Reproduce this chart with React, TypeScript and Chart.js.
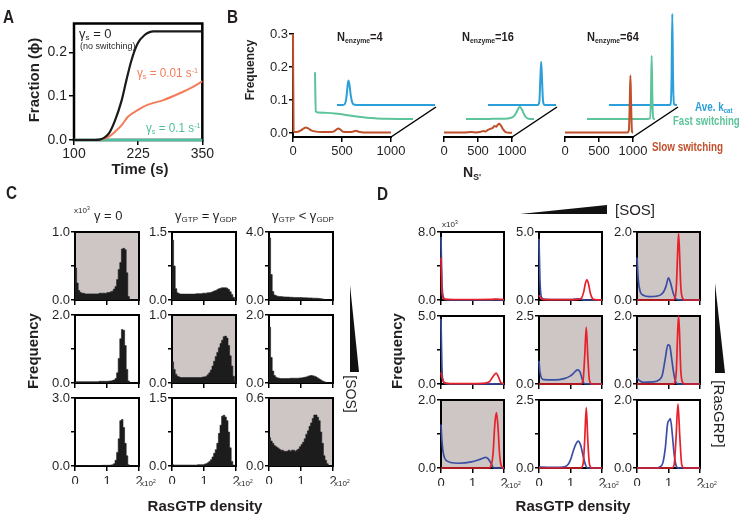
import React, { useEffect, useRef } from 'react';
import { Chart, registerables } from 'chart.js';

Chart.register(...registerables);

const FONT = '"Liberation Sans", Arial, Helvetica, sans-serif';
const INK = '#231f20';
const GRAY_BG = '#cdc6c5';
Chart.defaults.font.family = FONT;

// ---------------- Panel A ----------------
const aBlackTime = [100, 140, 150, 160, 168, 180, 193, 202, 212, 224, 237, 255, 272, 300, 350];
const aBlackFrac = [0, 0, 0.001, 0.006, 0.015, 0.045, 0.091, 0.136, 0.182, 0.22, 0.239, 0.248, 0.248, 0.248, 0.248];
const aOrangeTime = [100, 145, 155, 168, 180, 193, 205, 224, 243, 274, 305, 330, 350];
const aOrangeFrac = [0, 0, 0.002, 0.0075, 0.019, 0.034, 0.053, 0.068, 0.08, 0.091, 0.106, 0.12, 0.134];
const aTealTime = [100, 350];
const aTealFrac = [0, 0];
const aTimeTicks = [100, 225, 350];
const aFracTicks = [0, 0.1, 0.2];

// ---------------- Panel B ----------------
const bNumTicks = [0, 500, 1000];
const bFreqTicks = [0, 0.1, 0.2, 0.3];
const bEnzymeCounts = ['4', '16', '64'];

const bSlowX4 = [0, 6, 20, 50, 80, 110, 130, 150, 180, 220, 300, 380, 420, 445, 465, 485, 510, 560, 610, 640, 670, 720, 800, 1000];
const bSlowY4 = [0.3, 0.006, 0.003, 0.004, 0.008, 0.014, 0.017, 0.015, 0.009, 0.005, 0.003, 0.003, 0.005, 0.011, 0.014, 0.01, 0.004, 0.003, 0.004, 0.007, 0.004, 0.002, 0.002, 0.002];
const bFastX4 = [0, 8, 30, 100, 200, 300, 370, 450, 530, 620, 720, 1000];
const bFastY4 = [0.142, 0.023, 0.02, 0.019, 0.017, 0.013, 0.01, 0.007, 0.004, 0.002, 0.0005, 0];
const bAveX4 = [0, 60, 80, 95, 105, 117, 130, 140, 155, 180, 250, 1000];
const bAveY4 = [0, 0, 0.003, 0.02, 0.05, 0.074, 0.055, 0.03, 0.008, 0.001, 0, 0];

const bSlowX16 = [0, 100, 200, 300, 400, 480, 540, 580, 610, 640, 670, 700, 720, 741, 768, 790, 809, 830, 850, 870, 895, 920, 950, 1000];
const bSlowY16 = [0.002, 0.002, 0.002, 0.002, 0.003, 0.002, 0.004, 0.006, 0.005, 0.009, 0.012, 0.014, 0.016, 0.021, 0.019, 0.025, 0.028, 0.025, 0.018, 0.011, 0.005, 0.002, 0.001, 0.001];
const bFastX16 = [0, 200, 400, 550, 650, 700, 730, 760, 790, 820, 850, 880, 920, 1000];
const bFastY16 = [0, 0, 0.0005, 0.001, 0.003, 0.008, 0.016, 0.028, 0.037, 0.03, 0.016, 0.006, 0.001, 0];
const bAveX16 = [0, 600, 730, 755, 768, 782, 796, 810, 835, 1000];
const bAveY16 = [0, 0, 0, 0.01, 0.07, 0.131, 0.07, 0.01, 0, 0];

const bSlowX64 = [0, 500, 850, 920, 940, 952, 962, 972, 985, 1000];
const bSlowY64 = [0.002, 0.002, 0.002, 0.002, 0.01, 0.09, 0.174, 0.09, 0.005, 0.001];
const bFastX64 = [0, 880, 925, 940, 951, 962, 975, 1000];
const bFastY64 = [0, 0, 0.002, 0.06, 0.192, 0.06, 0.002, 0];
const bAveX64 = [0, 870, 905, 920, 931, 942, 955, 1000];
const bAveY64 = [0, 0, 0.002, 0.08, 0.276, 0.08, 0.002, 0];

// ---------------- Panel C (histograms, x10^3 frequency, bins of 0.05 x10^2) ----------------
const rasBinWidth = 0.05;
const rasTicks = [0, 1, 2];
const cYMax = [[1.0, 1.5, 4.0], [2.0, 1.0, 2.0], [3.0, 1.5, 0.6]];
const cHist11 = [0.47, 0.25, 0.14, 0.11, 0.1, 0.1, 0.09, 0.09, 0.09, 0.09, 0.09, 0.09, 0.09, 0.09, 0.09, 0.1, 0.1, 0.1, 0.1, 0.1, 0.11, 0.11, 0.12, 0.13, 0.16, 0.2, 0.3, 0.45, 0.55, 0.75, 0.76, 0.74, 0.4, 0.05, 0, 0, 0, 0, 0, 0];
const cHist12 = [1.32, 0.75, 0.25, 0.16, 0.14, 0.13, 0.13, 0.13, 0.13, 0.13, 0.13, 0.13, 0.13, 0.13, 0.13, 0.14, 0.14, 0.14, 0.14, 0.15, 0.15, 0.15, 0.16, 0.16, 0.17, 0.18, 0.2, 0.21, 0.23, 0.25, 0.26, 0.27, 0.27, 0.27, 0.26, 0.23, 0.18, 0.12, 0.06, 0.02];
const cHist13 = [3.65, 1.5, 0.5, 0.3, 0.25, 0.22, 0.2, 0.2, 0.19, 0.18, 0.18, 0.17, 0.17, 0.16, 0.16, 0.15, 0.15, 0.15, 0.14, 0.14, 0.14, 0.13, 0.13, 0.13, 0.12, 0.12, 0.12, 0.11, 0.11, 0.1, 0.1, 0.09, 0.08, 0.06, 0.04, 0.02, 0, 0, 0, 0];
const cHist21 = [0.04, 0.04, 0.04, 0.04, 0.04, 0.04, 0.04, 0.04, 0.04, 0.04, 0.04, 0.04, 0.04, 0.04, 0.04, 0.05, 0.05, 0.05, 0.05, 0.05, 0.05, 0.06, 0.06, 0.07, 0.09, 0.13, 0.3, 0.72, 1.3, 1.57, 1.55, 1.1, 0.4, 0.06, 0, 0, 0, 0, 0, 0];
const cHist22 = [0.31, 0.2, 0.13, 0.1, 0.09, 0.08, 0.08, 0.08, 0.08, 0.08, 0.08, 0.08, 0.08, 0.08, 0.08, 0.08, 0.08, 0.08, 0.08, 0.09, 0.09, 0.1, 0.12, 0.15, 0.19, 0.25, 0.32, 0.39, 0.45, 0.52, 0.58, 0.63, 0.68, 0.69, 0.66, 0.55, 0.4, 0.25, 0.1, 0.03];
const cHist23 = [1.64, 0.75, 0.35, 0.22, 0.17, 0.15, 0.14, 0.13, 0.13, 0.13, 0.13, 0.13, 0.13, 0.14, 0.14, 0.14, 0.14, 0.14, 0.14, 0.15, 0.15, 0.16, 0.17, 0.18, 0.2, 0.21, 0.22, 0.21, 0.2, 0.18, 0.15, 0.12, 0.09, 0.06, 0.04, 0.02, 0.01, 0, 0, 0];
const cHist31 = [0.01, 0.01, 0.01, 0.01, 0.01, 0.01, 0.01, 0.02, 0.02, 0.02, 0.02, 0.02, 0.02, 0.02, 0.02, 0.02, 0.02, 0.03, 0.03, 0.03, 0.03, 0.03, 0.04, 0.05, 0.1, 0.25, 0.6, 1.2, 2.0, 2.05, 1.7, 1.0, 0.45, 0.05, 0, 0, 0, 0, 0, 0];
const cHist32 = [0.03, 0.02, 0.02, 0.02, 0.02, 0.02, 0.02, 0.02, 0.02, 0.02, 0.02, 0.02, 0.02, 0.02, 0.02, 0.02, 0.03, 0.03, 0.03, 0.03, 0.04, 0.05, 0.07, 0.1, 0.14, 0.2, 0.28, 0.36, 0.5, 0.72, 0.9, 1.1, 1.12, 1.08, 1.0, 0.75, 0.4, 0.1, 0.02, 0];
const cHist33 = [0.25, 0.22, 0.2, 0.18, 0.17, 0.16, 0.15, 0.14, 0.14, 0.13, 0.13, 0.13, 0.14, 0.13, 0.14, 0.14, 0.13, 0.14, 0.15, 0.17, 0.19, 0.21, 0.24, 0.28, 0.31, 0.35, 0.38, 0.42, 0.45, 0.45, 0.43, 0.4, 0.3, 0.2, 0.09, 0.05, 0.02, 0, 0, 0];
const cHists = [[cHist11, cHist12, cHist13], [cHist21, cHist22, cHist23], [cHist31, cHist32, cHist33]];
const cShaded = [[true, false, false], [false, true, false], [false, false, true]];

// ---------------- Panel D (lines, x10^3 frequency) ----------------
const dYMax = [[8.0, 5.0, 2.0], [5.0, 2.5, 2.0], [2.0, 2.5, 2.0]];
const dShaded = [[false, false, true], [false, true, true], [true, false, false]];

const dBlueX11 = [0, 0.03, 0.08, 0.15, 0.5, 2];
const dBlueY11 = [7.4, 2.0, 0.3, 0.05, 0.02, 0.02];
const dRedX11 = [0, 0.03, 0.08, 0.2, 0.6, 1.2, 1.6, 1.75, 1.85, 2];
const dRedY11 = [5.0, 1.0, 0.15, 0.08, 0.06, 0.06, 0.07, 0.12, 0.08, 0.06];

const dBlueX12 = [0, 0.03, 0.07, 0.15, 0.5, 1.0, 1.15, 1.25, 1.35, 1.45, 2];
const dBlueY12 = [4.5, 1.5, 0.25, 0.06, 0.03, 0.03, 0.07, 0.08, 0.05, 0, 0];
const dRedX12 = [0, 0.04, 0.1, 0.3, 1.0, 1.25, 1.35, 1.42, 1.47, 1.52, 1.57, 1.63, 1.7, 1.8, 2];
const dRedY12 = [0.35, 0.2, 0.05, 0.03, 0.03, 0.05, 0.15, 0.6, 1.2, 1.48, 1.2, 0.5, 0.1, 0.02, 0];

const dBlueX13 = [0, 0.04, 0.1, 0.2, 0.4, 0.6, 0.75, 0.85, 0.92, 1.0, 1.08, 1.15, 1.25, 1.4, 2];
const dBlueY13 = [1.25, 0.6, 0.25, 0.14, 0.1, 0.11, 0.15, 0.25, 0.4, 0.65, 0.45, 0.2, 0.02, 0, 0];
const dRedX13 = [0, 1.12, 1.2, 1.25, 1.29, 1.32, 1.35, 1.39, 1.45, 1.53, 2];
const dRedY13 = [0, 0, 0.05, 0.4, 1.4, 1.95, 1.4, 0.4, 0.05, 0, 0];

const dBlueX21 = [0, 0.03, 0.07, 0.15, 0.5, 2];
const dBlueY21 = [4.8, 1.2, 0.2, 0.03, 0.01, 0];
const dRedX21 = [0, 0.04, 0.1, 0.3, 1.0, 1.4, 1.55, 1.65, 1.75, 1.82, 1.9, 2];
const dRedY21 = [0.85, 0.4, 0.1, 0.03, 0.03, 0.06, 0.2, 0.55, 0.8, 0.55, 0.1, 0.02];

const dBlueX22 = [0, 0.03, 0.08, 0.15, 0.5, 0.8, 1.0, 1.1, 1.22, 1.3, 1.38, 1.45, 2];
const dBlueY22 = [0.85, 0.45, 0.22, 0.16, 0.15, 0.2, 0.3, 0.4, 0.52, 0.45, 0.15, 0.01, 0];
const dRedX22 = [0, 1.33, 1.4, 1.45, 1.5, 1.55, 1.6, 1.67, 2];
const dRedY22 = [0, 0, 0.15, 1.0, 2.08, 1.0, 0.15, 0, 0];

const dBlueX23 = [0, 0.05, 0.2, 0.5, 0.7, 0.8, 0.89, 0.98, 1.04, 1.1, 1.16, 1.22, 1.3, 2];
const dBlueY23 = [0.18, 0.12, 0.05, 0.06, 0.12, 0.25, 0.7, 1.15, 1.12, 0.75, 0.35, 0.08, 0, 0];
const dRedX23 = [0, 1.12, 1.2, 1.25, 1.29, 1.32, 1.35, 1.39, 1.45, 1.53, 2];
const dRedY23 = [0, 0, 0.05, 0.4, 1.5, 2.0, 1.5, 0.4, 0.05, 0, 0];

const dBlueX31 = [0, 0.03, 0.07, 0.18, 0.55, 0.97, 1.28, 1.42, 1.5, 1.58, 1.68, 2];
const dBlueY31 = [1.28, 0.8, 0.45, 0.21, 0.14, 0.18, 0.27, 0.31, 0.27, 0.15, 0, 0];
const dRedX31 = [0, 1.5, 1.58, 1.65, 1.71, 1.76, 1.81, 1.86, 1.92, 2];
const dRedY31 = [0, 0, 0.05, 0.4, 1.3, 1.63, 1.2, 0.4, 0.05, 0];

const dBlueX32 = [0, 0.1, 0.5, 0.75, 0.9, 1.0, 1.08, 1.16, 1.24, 1.32, 1.4, 1.48, 1.55, 2];
const dBlueY32 = [0.04, 0.03, 0.02, 0.03, 0.1, 0.3, 0.6, 0.85, 0.99, 0.85, 0.45, 0.1, 0, 0];
const dRedX32 = [0, 1.33, 1.4, 1.45, 1.5, 1.55, 1.6, 1.67, 2];
const dRedY32 = [0, 0, 0.15, 1.0, 2.22, 1.0, 0.15, 0, 0];

const dBlueX33 = [0, 0.6, 0.72, 0.82, 0.9, 0.97, 1.02, 1.06, 1.12, 1.18, 1.25, 1.32, 2];
const dBlueY33 = [0, 0, 0.03, 0.15, 0.6, 1.3, 1.4, 1.45, 1.0, 0.4, 0.05, 0, 0];
const dRedX33 = [0, 1.1, 1.18, 1.24, 1.3, 1.36, 1.42, 1.5, 2];
const dRedY33 = [0, 0, 0.1, 0.9, 1.88, 0.9, 0.1, 0, 0];

const dBlue = [
  [[dBlueX11, dBlueY11], [dBlueX12, dBlueY12], [dBlueX13, dBlueY13]],
  [[dBlueX21, dBlueY21], [dBlueX22, dBlueY22], [dBlueX23, dBlueY23]],
  [[dBlueX31, dBlueY31], [dBlueX32, dBlueY32], [dBlueX33, dBlueY33]],
];
const dRed = [
  [[dRedX11, dRedY11], [dRedX12, dRedY12], [dRedX13, dRedY13]],
  [[dRedX21, dRedY21], [dRedX22, dRedY22], [dRedX23, dRedY23]],
  [[dRedX31, dRedY31], [dRedX32, dRedY32], [dRedX33, dRedY33]],
];

// ---------------- colours & layout ----------------
const COL = {
  aBlack: '#1a1a1a', aOrange: '#f47c5a', aTeal: '#4fbf9e',
  bSlow: '#c0502c', bFast: '#5cc39a', bAve: '#2b9fd9',
  dRed: '#e8202a', dBlue: '#3a4fa3', hist: '#1c1c1c',
};
const bLefts = [293, 414, 535];
const bLayerShift = [[0, 0], [22, -14], [44, -28]];
const cCols = [75, 172, 269];
const cRows = [232, 315, 398];
const dCols = [441, 539, 637];
const dRows = [232, 316, 400];

const xy = (xs: number[], ys: number[]) => xs.map((x, i) => ({ x, y: ys[i] }));
const histPts = (vals: number[]) => [...vals.map((v, i) => ({ x: i * rasBinWidth, y: v })), { x: 2, y: 0 }];

function axis(o: any) {
  return {
    type: 'linear',
    display: o.display !== false,
    min: o.min,
    max: o.max,
    afterBuildTicks: (s: any) => { s.ticks = o.ticks.map((v: number) => ({ value: v })); },
    afterFit: (s: any) => { if (s.isHorizontal()) s.height = o.size; else s.width = o.size; },
    border: { display: false },
    grid: { drawOnChartArea: false, drawTicks: true, tickLength: o.tickLen ?? 4, color: '#000', lineWidth: 1.5 },
    ticks: {
      callback: (v: any, i: number) => o.label(Number(v), i),
      font: { size: o.font, family: FONT },
      color: INK,
      padding: o.pad ?? 2,
      maxRotation: 0,
      minRotation: 0,
      autoSkip: false,
    },
  };
}

function framePlugin(opt: any) {
  return {
    id: 'frame',
    beforeDatasetsDraw(chart: any) {
      const { ctx, chartArea: a } = chart;
      ctx.save();
      if (opt.bg) {
        ctx.fillStyle = opt.bg;
        ctx.fillRect(a.left, a.top, a.right - a.left, a.bottom - a.top);
      }
      if (opt.width) {
        const s = opt.sides || 'lrtb';
        ctx.strokeStyle = '#000';
        ctx.lineWidth = opt.width;
        ctx.lineCap = 'square';
        ctx.beginPath();
        if (s.includes('l')) { ctx.moveTo(a.left, a.top); ctx.lineTo(a.left, a.bottom); }
        if (s.includes('r')) { ctx.moveTo(a.right, a.top); ctx.lineTo(a.right, a.bottom); }
        if (s.includes('t')) { ctx.moveTo(a.left, a.top); ctx.lineTo(a.right, a.top); }
        if (s.includes('b')) { ctx.moveTo(a.left, a.bottom); ctx.lineTo(a.right, a.bottom); }
        ctx.stroke();
      }
      ctx.restore();
    },
  };
}

function layerPlugin(shifts: number[][], diag: number[]) {
  return {
    id: 'layers',
    beforeDatasetDraw(chart: any, args: any) {
      const s = shifts[args.index] || [0, 0];
      chart.ctx.save();
      chart.ctx.translate(s[0], s[1]);
    },
    afterDatasetDraw(chart: any) { chart.ctx.restore(); },
    afterDatasetsDraw(chart: any) {
      const { ctx, chartArea: a, scales } = chart;
      const x0 = scales.x.getPixelForValue(1000);
      ctx.save();
      ctx.strokeStyle = '#000';
      ctx.lineWidth = 1.5;
      ctx.beginPath();
      ctx.moveTo(x0, a.bottom);
      ctx.lineTo(x0 + diag[0], a.bottom + diag[1]);
      ctx.stroke();
      ctx.restore();
    },
  };
}

function place(box: any, m: any, yW: number, xH: number) {
  return {
    cx: box.x - m.l, cy: box.y - m.t, cw: box.w + m.l + m.r, ch: box.h + m.t + m.b,
    padding: { left: m.l - yW, right: m.r, top: m.t, bottom: m.b - xH },
  };
}

function baseOptions(padding: any, scales: any) {
  return {
    responsive: false,
    maintainAspectRatio: false,
    animation: false,
    devicePixelRatio: 1,
    events: [],
    layout: { padding },
    plugins: { legend: { display: false }, tooltip: { enabled: false } },
    scales,
  };
}

const lineDs = (data: any, color: string, width: number, order: number) => ({
  data, borderColor: color, borderWidth: width, pointRadius: 0, fill: false,
  cubicInterpolationMode: 'monotone', tension: 0.4, clip: false, order,
});

// -------- spec builders --------
function specA() {
  const p = place({ x: 74, y: 23, w: 133, h: 117 }, { l: 36, r: 8, t: 10, b: 24 }, 32, 20);
  return {
    ...p,
    make: () => ({
      type: 'line',
      data: {
        datasets: [
          lineDs(xy(aBlackTime, aBlackFrac), COL.aBlack, 2.2, 0),
          lineDs(xy(aOrangeTime, aOrangeFrac), COL.aOrange, 2, 1),
          lineDs(xy(aTealTime, aTealFrac), COL.aTeal, 2.5, 2),
        ],
      },
      options: baseOptions(p.padding, {
        x: axis({ min: 100, max: 350, ticks: aTimeTicks, label: (v: number) => String(v), size: 20, font: 14, tickLen: 5, pad: 1 }),
        y: axis({ min: 0, max: 0.266, ticks: aFracTicks, label: (v: number) => v.toFixed(1), size: 32, font: 14, tickLen: 5, pad: 2 }),
      }),
      plugins: [framePlugin({ width: 2.5 })],
    }),
  };
}

function specB(k: number) {
  const sets = [
    [bSlowX4, bSlowY4, bFastX4, bFastY4, bAveX4, bAveY4],
    [bSlowX16, bSlowY16, bFastX16, bFastY16, bAveX16, bAveY16],
    [bSlowX64, bSlowY64, bFastX64, bFastY64, bAveX64, bAveY64],
  ][k];
  const yW = k === 0 ? 30 : 0;
  const p = place({ x: bLefts[k], y: 34, w: 98, h: 103 }, { l: k === 0 ? 40 : 12, r: 52, t: 26, b: 22 }, yW, 18);
  return {
    ...p,
    make: () => ({
      type: 'line',
      data: {
        datasets: [
          lineDs(xy(sets[0], sets[1]), COL.bSlow, 2, 0),
          lineDs(xy(sets[2], sets[3]), COL.bFast, 2, 1),
          lineDs(xy(sets[4], sets[5]), COL.bAve, 2, 2),
        ],
      },
      options: baseOptions(p.padding, {
        x: axis({ min: 0, max: 1000, ticks: bNumTicks, label: (v: number) => String(v), size: 18, font: 13, tickLen: 5, pad: 2 }),
        y: axis({ display: k === 0, min: -0.012, max: 0.3, ticks: bFreqTicks, label: (v: number) => v.toFixed(1), size: 30, font: 13, tickLen: 4, pad: 1 }),
      }),
      plugins: [framePlugin({ width: 2, sides: k === 0 ? 'lb' : 'b' }), layerPlugin(bLayerShift, [45, -30])],
    }),
  };
}

function smallAxes(ymax: number, showX: boolean) {
  return {
    x: axis({ min: 0, max: 2, ticks: rasTicks, label: (v: number) => (showX ? String(v) : ''), size: 18, font: 13, tickLen: 5, pad: 3 }),
    y: axis({ min: 0, max: ymax, ticks: [0, ymax / 2, ymax], label: (v: number, i: number) => (i === 1 ? '' : v.toFixed(1)), size: 28, font: 13, tickLen: 4, pad: 1 }),
  };
}

function specC(r: number, c: number) {
  const p = place({ x: cCols[c], y: cRows[r], w: 64, h: 68 }, { l: 30, r: 8, t: 9, b: 22 }, 28, 18);
  return {
    ...p,
    make: () => ({
      type: 'line',
      data: {
        datasets: [{
          data: histPts(cHists[r][c]), stepped: 'before', fill: 'origin',
          backgroundColor: COL.hist, borderColor: COL.hist, borderWidth: 0.6, pointRadius: 0, clip: false,
        }],
      },
      options: baseOptions(p.padding, smallAxes(cYMax[r][c], r === 2)),
      plugins: [framePlugin({ width: 2, bg: cShaded[r][c] ? GRAY_BG : null })],
    }),
  };
}

function specD(r: number, c: number) {
  const p = place({ x: dCols[c], y: dRows[r], w: 63, h: 68 }, { l: 30, r: 8, t: 9, b: 22 }, 28, 18);
  const [bx, by] = dBlue[r][c];
  const [rx, ry] = dRed[r][c];
  return {
    ...p,
    make: () => ({
      type: 'line',
      data: {
        datasets: [
          lineDs(xy(rx, ry), COL.dRed, 1.7, 0),
          lineDs(xy(bx, by), COL.dBlue, 1.7, 1),
        ],
      },
      options: baseOptions(p.padding, smallAxes(dYMax[r][c], r === 2)),
      plugins: [framePlugin({ width: 2, bg: dShaded[r][c] ? GRAY_BG : null })],
    }),
  };
}

function ChartCanvas({ spec }: any) {
  const ref = useRef<HTMLCanvasElement>(null);
  useEffect(() => {
    const chart = new Chart(ref.current as any, spec.make());
    return () => chart.destroy();
  }, [spec]);
  return (
    <canvas ref={ref} width={spec.cw} height={spec.ch}
      style={{ position: 'absolute', left: spec.cx, top: spec.cy, width: spec.cw, height: spec.ch }} />
  );
}

const SUB: any = { fontSize: '0.62em', verticalAlign: '-0.3em', lineHeight: 0 };
const SUP: any = { fontSize: '0.62em', verticalAlign: '0.55em', lineHeight: 0 };

function Txt({ x, y, size = 13, bold = false, color = INK, center = false, rot = 0, sx = 1, children }: any) {
  const style: any = {
    position: 'absolute', left: x, top: y, fontSize: size, fontWeight: bold ? 700 : 400, color,
    fontFamily: FONT, lineHeight: 1, whiteSpace: 'nowrap',
  };
  const scale = sx !== 1 ? ` scaleX(${sx})` : '';
  if (center) {
    style.transform = `translate(-50%, -50%)${rot ? ` rotate(${rot}deg)` : ''}${scale}`;
  } else if (scale) {
    style.transform = scale.trim();
    style.transformOrigin = 'left top';
  }
  return <div style={style}>{children}</div>;
}

const SPECS = (() => {
  const list: any[] = [specA(), specB(0), specB(1), specB(2)];
  for (let r = 0; r < 3; r++) for (let c = 0; c < 3; c++) list.push(specC(r, c));
  for (let r = 0; r < 3; r++) for (let c = 0; c < 3; c++) list.push(specD(r, c));
  return list;
})();

export default function App() {
  const bNamesLeft = [337, 462, 587];
  return (
    <div style={{ position: 'fixed', left: 0, top: 0, width: 750, height: 518, background: '#fff', overflow: 'hidden', fontFamily: FONT, color: INK }}>
      {SPECS.map((s, i) => <ChartCanvas key={i} spec={s} />)}

      <svg width={750} height={518} style={{ position: 'absolute', left: 0, top: 0, pointerEvents: 'none' }}>
        <polygon points="350,285 350,372 359,372" fill="#111" />
        <polygon points="715,283 715,373 725,373" fill="#111" />
        <polygon points="520,214 607,214 607,205" fill="#111" />
      </svg>

      {/* panel letters */}
      <Txt x={3} y={8} size={18} bold sx={0.85}>A</Txt>
      <Txt x={227} y={8} size={18} bold sx={0.85}>B</Txt>
      <Txt x={6} y={184} size={18} bold sx={0.85}>C</Txt>
      <Txt x={377} y={185} size={18} bold sx={0.85}>D</Txt>

      {/* panel A text */}
      <Txt x={33} y={80} size={15} bold center rot={-90}>Fraction (ϕ)</Txt>
      <Txt x={140} y={168} size={15} bold center>Time (s)</Txt>
      <Txt x={79} y={27} size={13}>γ<span style={SUB}>s</span> = 0</Txt>
      <Txt x={80} y={42} size={9}>(no switching)</Txt>
      <Txt x={137} y={66} size={13} sx={0.9} color={COL.aOrange}>γ<span style={SUB}>s</span> = 0.01 s<span style={SUP}>-1</span></Txt>
      <Txt x={146} y={121} size={13} sx={0.9} color={COL.aTeal}>γ<span style={SUB}>s</span> = 0.1 s<span style={SUP}>-1</span></Txt>

      {/* panel B text */}
      <Txt x={250} y={70} size={12} bold center rot={-90}>Frequency</Txt>
      {bEnzymeCounts.map((n, i) => (
        <Txt key={n} x={bNamesLeft[i]} y={31} size={12} bold sx={0.92}>N<span style={SUB}>enzyme</span>={n}</Txt>
      ))}
      <Txt x={463} y={165} size={14} bold>N<span style={SUB}>S'</span></Txt>
      <Txt x={695} y={101} size={12} bold sx={0.82} color={COL.bAve}>Ave. k<span style={SUB}>cat</span></Txt>
      <Txt x={673} y={115} size={12} bold sx={0.8} color={COL.bFast}>Fast switching</Txt>
      <Txt x={652} y={141} size={12} bold sx={0.82} color={COL.bSlow}>Slow switching</Txt>

      {/* panel C text */}
      <Txt x={74} y={207} size={8}>x10<span style={SUP}>3</span></Txt>
      <Txt x={94} y={209} size={13}>γ = 0</Txt>
      <Txt x={175} y={209} size={13}>γ<span style={SUB}>GTP</span> = γ<span style={SUB}>GDP</span></Txt>
      <Txt x={272} y={209} size={13}>γ<span style={SUB}>GTP</span> &lt; γ<span style={SUB}>GDP</span></Txt>
      <Txt x={32} y={351} size={15} bold center rot={-90}>Frequency</Txt>
      <Txt x={205} y={505} size={15} bold center>RasGTP density</Txt>
      <Txt x={351} y={394} size={14} center rot={90}>[SOS]</Txt>
      {cCols.map((x) => (
        <Txt key={'cx' + x} x={x + 64 + 1} y={cRows[2] + 68 + 14} size={8}>x10<span style={SUP}>2</span></Txt>
      ))}

      {/* panel D text */}
      <Txt x={442} y={221} size={8}>x10<span style={SUP}>3</span></Txt>
      <Txt x={615} y={202} size={15}>[SOS]</Txt>
      <Txt x={396} y={351} size={15} bold center rot={-90}>Frequency</Txt>
      <Txt x={573} y={505} size={15} bold center>RasGTP density</Txt>
      <Txt x={719} y={414} size={15} center rot={90}>[RasGRP]</Txt>
      {dCols.map((x) => (
        <Txt key={'dx' + x} x={x + 63 + 1} y={dRows[2] + 68 + 14} size={8}>x10<span style={SUP}>2</span></Txt>
      ))}
    </div>
  );
}
